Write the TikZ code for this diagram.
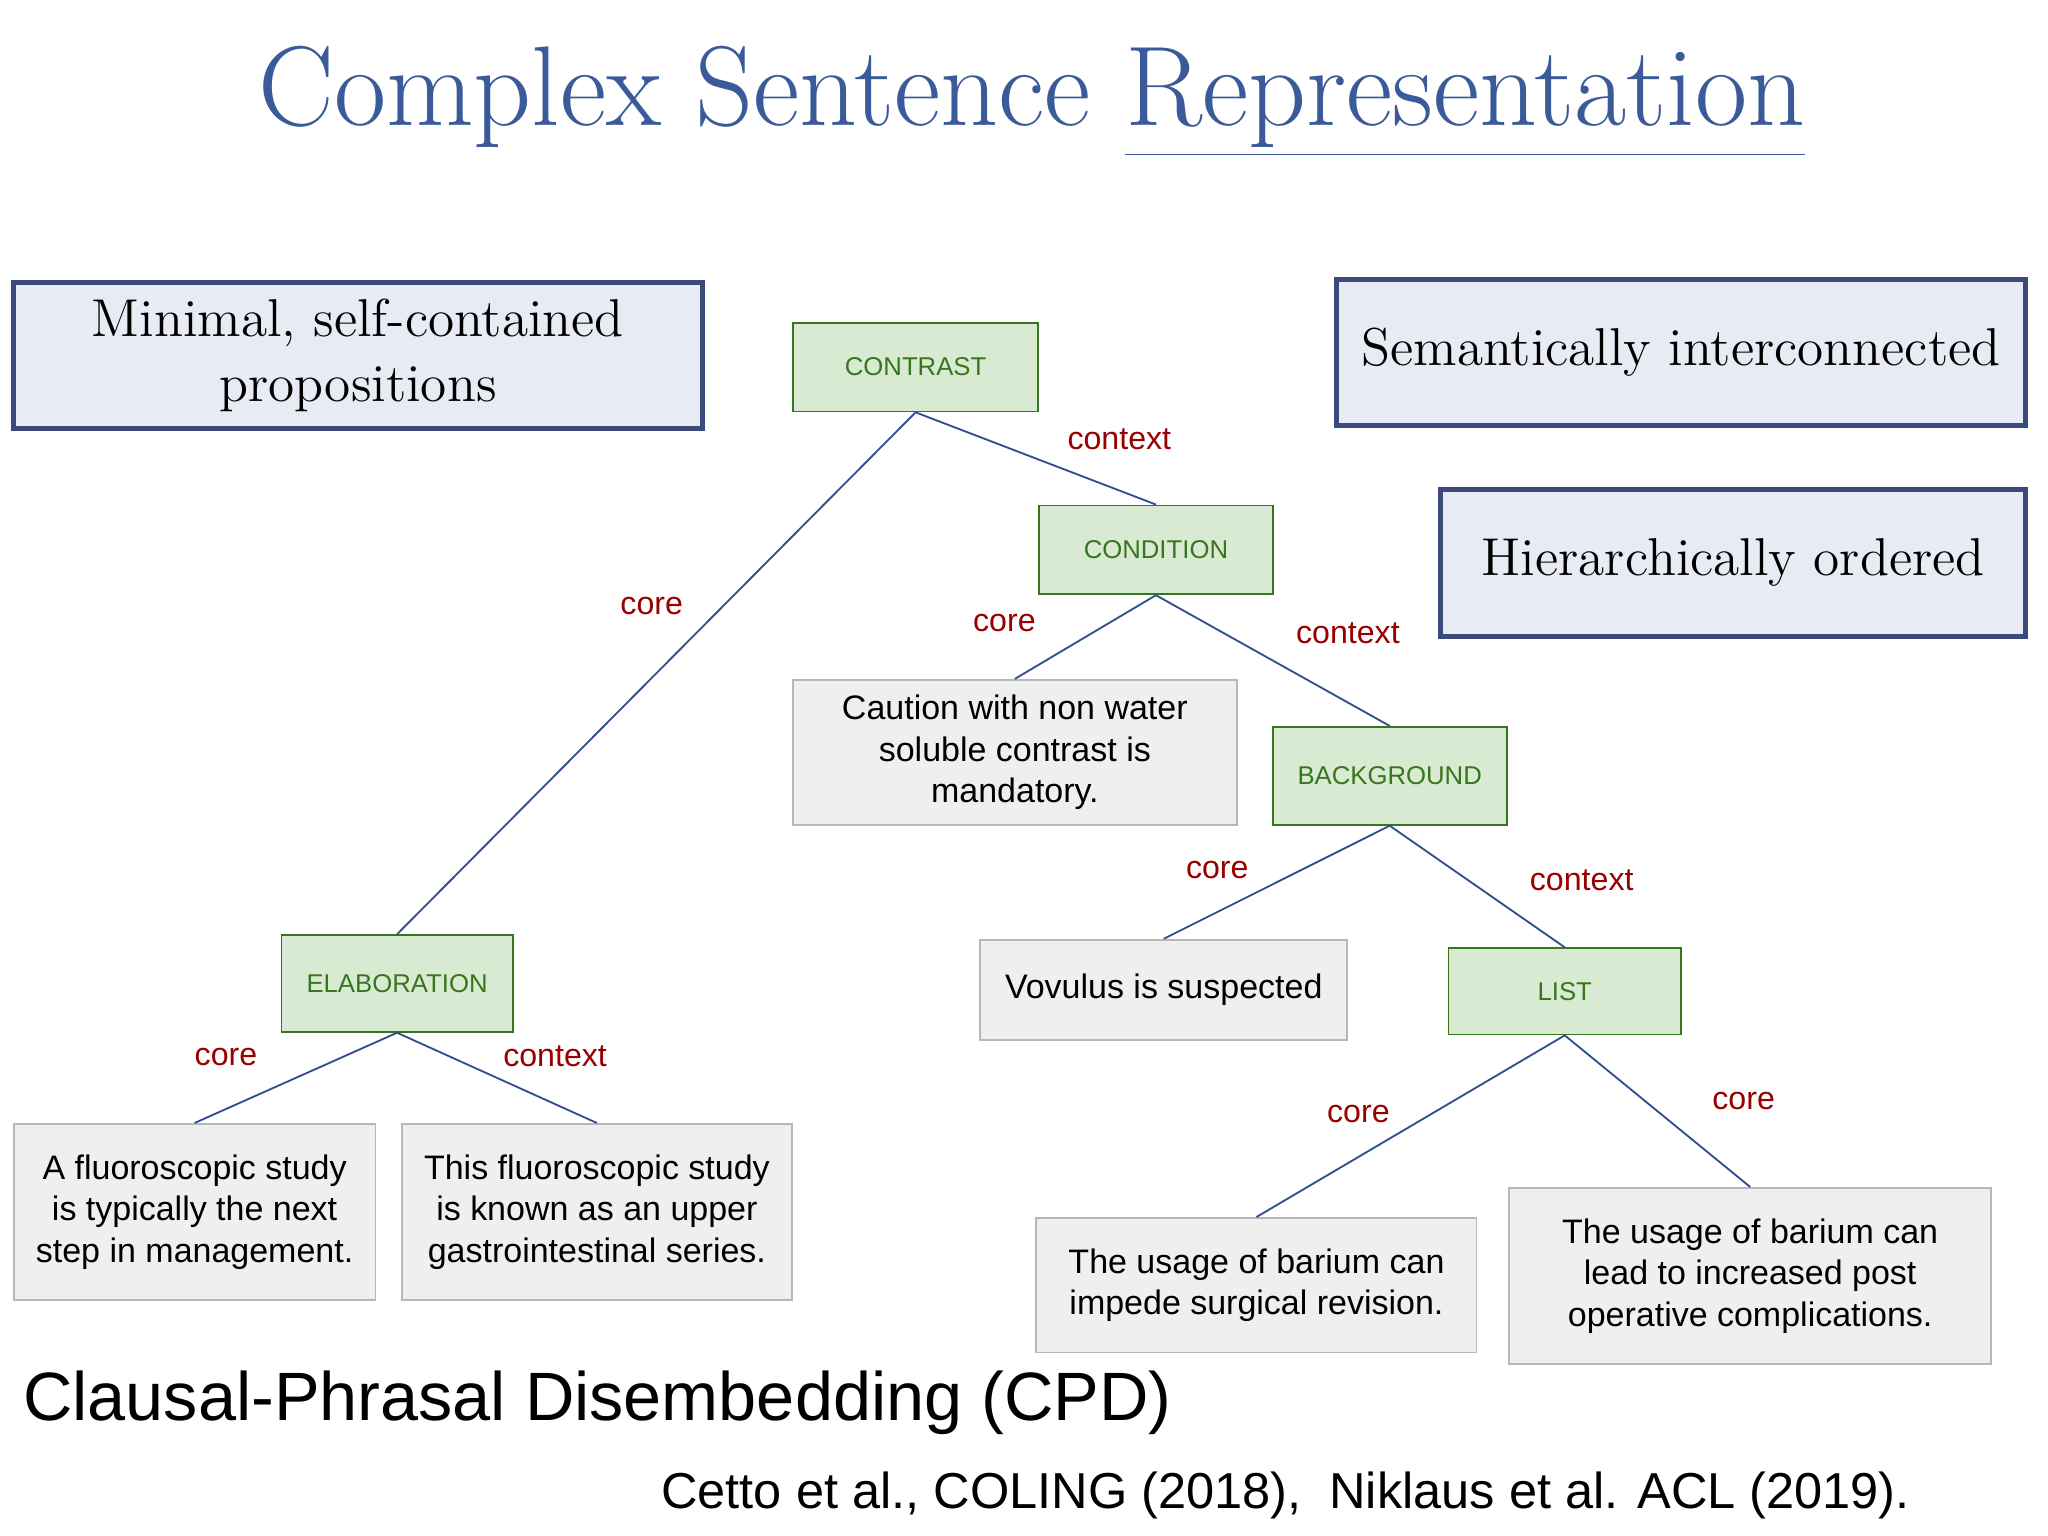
\documentclass[tikz,border=0pt]{standalone}
\usepackage{fontspec}
\newfontfamily\sans{Liberation Sans}
\begin{document}
\begin{tikzpicture}[x=0.01cm,y=-0.01cm]
	% colours
	\definecolor{titleblue}{HTML}{3A5A9A}
	\definecolor{navy}{HTML}{3B4A7A}
	\definecolor{lav}{HTML}{E8EAF4}
	\definecolor{relgreen}{HTML}{D9EAD3}
	\definecolor{darkgreen}{HTML}{38761D}
	\definecolor{leafgray}{HTML}{EFEFEF}
	\definecolor{rimgray}{HTML}{B7B7B7}
	\definecolor{labred}{HTML}{990000}
	\definecolor{edgeblue}{HTML}{2F4F8F}
	% size unit (one reference pixel)
	\def\px{0.01cm}
	% node style definition
	\tikzstyle{claim} = [draw=navy, line width=1.1pt, fill=lav, rectangle, align=center, inner sep=0pt, font=\fontsize{11.6}{14}\selectfont];
	\tikzstyle{rel} = [draw=darkgreen, line width=0.4pt, fill=relgreen, rectangle, text=darkgreen, inner sep=0pt, font=\sans\fontsize{5.6}{7}\selectfont];
	\tikzstyle{leaf} = [draw=rimgray, line width=0.4pt, fill=leafgray, rectangle, align=center, inner sep=0pt, font=\sans\fontsize{7.4}{9}\selectfont];
	\tikzstyle{lab} = [text=labred, font=\sans\fontsize{7}{9}\selectfont];
	\tikzstyle{arc} = [draw=edgeblue, line width=0.4pt];
	\fill[white] (0,0) rectangle (1568,1176);
	% title
	\node[text=titleblue, font=\fontsize{24.7}{30}\selectfont] (title) at (790,78) {Complex Sentence \underline{Representation}};
	% side claims
	\node[claim, minimum width=528*\px, minimum height=112*\px] (minimal) at (274,272) {Minimal, self-contained\\propositions};
	\node[claim, minimum width=528*\px, minimum height=112*\px] (semantic) at (1287,270) {Semantically interconnected};
	\node[claim, minimum width=448*\px, minimum height=113*\px] (hier) at (1327,431) {Hierarchically ordered};
	% relations
	\node[rel, minimum width=188*\px, minimum height=68*\px] (contrast) at (701,281) {CONTRAST};
	\node[rel, minimum width=179*\px, minimum height=68*\px] (condition) at (885,421) {CONDITION};
	\node[rel, minimum width=179*\px, minimum height=75*\px] (background) at (1064,594) {BACKGROUND};
	\node[rel, minimum width=178*\px, minimum height=66*\px] (list) at (1198,759) {LIST};
	\node[rel, minimum width=177*\px, minimum height=74*\px] (elab) at (304,753) {ELABORATION};
	% leaves
	\node[leaf, minimum width=340*\px, minimum height=111*\px] (caution) at (777,576) {Caution with non water\\soluble contrast is\\mandatory.};
	\node[leaf, minimum width=281*\px, minimum height=77*\px] (vovulus) at (891,758) {Vovulus is suspected};
	\node[leaf, minimum width=337*\px, minimum height=103*\px] (impede) at (962,984) {The usage of barium can\\impede surgical revision.};
	\node[leaf, minimum width=369*\px, minimum height=135*\px] (post) at (1340,977) {The usage of barium can\\lead to increased post\\operative complications.};
	\node[leaf, minimum width=277*\px, minimum height=135*\px] (afluoro) at (149,928) {A fluoroscopic study\\is typically the next\\step in management.};
	\node[leaf, minimum width=299*\px, minimum height=135*\px] (thisfluoro) at (457,928) {This fluoroscopic study\\is known as an upper\\gastrointestinal series.};
	% connectors
	\draw[arc] (contrast.south) -- (condition.north);
	\draw[arc] (contrast.south) -- (elab.north);
	\draw[arc] (condition.south) -- (caution.north);
	\draw[arc] (condition.south) -- (background.north);
	\draw[arc] (background.south) -- (vovulus.north);
	\draw[arc] (background.south) -- (list.north);
	\draw[arc] (list.south) -- (impede.north);
	\draw[arc] (list.south) -- (post.north);
	\draw[arc] (elab.south) -- (afluoro.north);
	\draw[arc] (elab.south) -- (thisfluoro.north);
	% arc labels
	\node[lab] (l1) at (857,336) {context};
	\node[lab] (l2) at (499,464) {core};
	\node[lab] (l3) at (769,477) {core};
	\node[lab] (l4) at (1032,485) {context};
	\node[lab] (l5) at (932,666) {core};
	\node[lab] (l6) at (1211,674) {context};
	\node[lab] (l7) at (173,809) {core};
	\node[lab] (l8) at (425,809) {context};
	\node[lab] (l9) at (1040,853) {core};
	\node[lab] (l10) at (1335,843) {core};
	% footer
	\node[anchor=west, inner sep=0pt, font=\sans\fontsize{14.9}{18}\selectfont] (cpd) at (17,1074) {Clausal-Phrasal Disembedding (CPD)};
	\node[anchor=east, inner sep=0pt, font=\sans\fontsize{11}{13}\selectfont] (cite) at (1463,1145) {Cetto et al., COLING (2018),\ \ Niklaus et al. ACL (2019).};
\end{tikzpicture}
\end{document}
